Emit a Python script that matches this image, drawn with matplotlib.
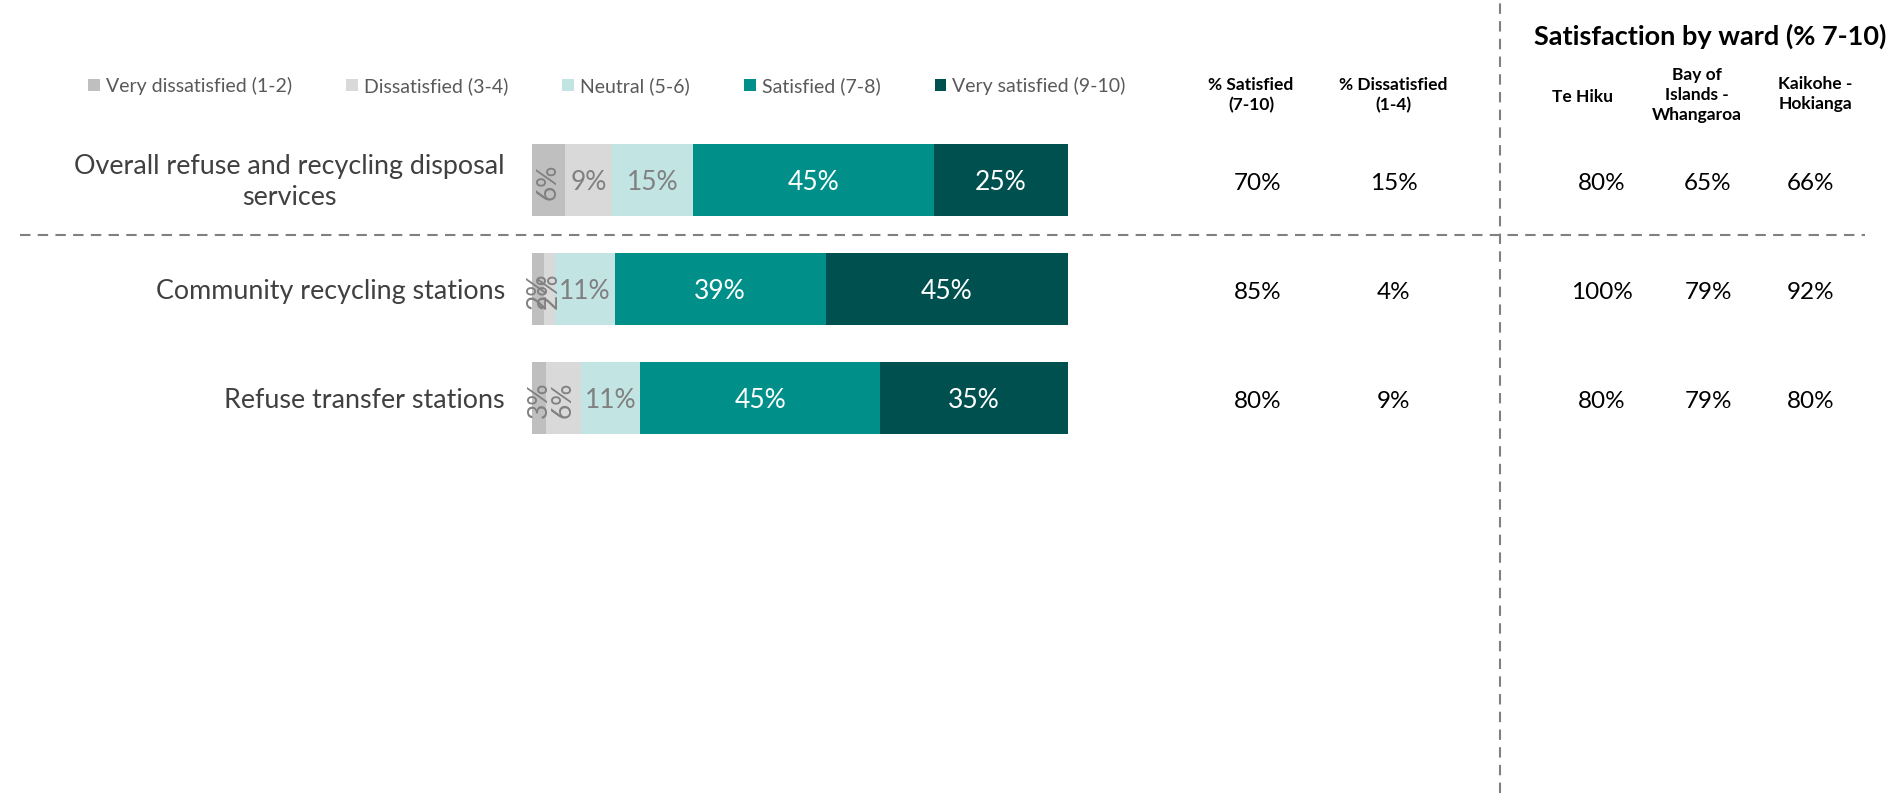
import matplotlib.pyplot as plt
import matplotlib.transforms as mtransforms
from matplotlib.lines import Line2D

# ===================================================================
# Data
# ===================================================================
categories = ["Overall refuse and recycling disposal\nservices",
              "Community recycling stations",
              "Refuse transfer stations"]
levels = ["Very dissatisfied (1-2)", "Dissatisfied (3-4)", "Neutral (5-6)",
          "Satisfied (7-8)", "Very satisfied (9-10)"]

very_dissatisfied = [6.1, 2.2, 2.7]
dissatisfied = [8.9, 2.0, 6.4]
neutral = [15.0, 11.2, 11.1]
satisfied = [45.0, 39.4, 44.8]
very_satisfied = [25.0, 45.2, 35.0]

pct_satisfied = [70, 85, 80]
pct_dissatisfied = [15, 4, 9]

ward_names = ["Te Hiku", "Bay of\nIslands -\nWhangaroa", "Kaikohe -\nHokianga"]
te_hiku = [80, 100, 80]
bay_of_islands = [65, 79, 79]
kaikohe = [66, 92, 80]

colors = ["#BFBFBF", "#D9D9D9", "#C2E5E4", "#009089", "#00504F"]
label_colors = ["#808080", "#808080", "#808080", "white", "white"]

# ===================================================================
# Figure
# ===================================================================
plt.rcParams["font.family"] = ["Lato", "DejaVu Sans"]
W, H = 1893, 793
fig = plt.figure(figsize=(W / 100, H / 100), dpi=100)

# row centres sit at 180, 290, 398 px from the top
row_px = 109.0
top_px = 180.0
ax = fig.add_axes([532 / W, 0, (1068 - 532) / W, 1])
ax.set_xlim(0, 100)
ax.set_ylim((H - top_px) / row_px, -top_px / row_px)
ax.axis("off")

ypos = list(range(len(categories)))
series = [very_dissatisfied, dissatisfied, neutral, satisfied, very_satisfied]

left = [0.0] * len(categories)
handles = []
for vals, name, col, lcol in zip(series, levels, colors, label_colors):
    bars = ax.barh(ypos, vals, left=left, height=0.66, color=col, label=name)
    handles.append(bars)
    for y, v, l in zip(ypos, vals, left):
        rot = 90 if v < 7 else 0
        ax.text(l + v / 2, y + 0.02, f"{round(v)}%", ha="center", va="center",
                rotation=rot, color=lcol, fontsize=19)
    left = [l + v for l, v in zip(left, vals)]

# blended transform: figure x, data y
tr = mtransforms.blended_transform_factory(fig.transFigure, ax.transData)

for y, cat in zip(ypos, categories):
    ax.text(505 / W, y + 0.02, cat, transform=tr, ha="right", va="center",
            multialignment="center", fontsize=19.4, color="#404040",
            linespacing=1.3)

# % satisfied / dissatisfied columns
for y, s, d in zip(ypos, pct_satisfied, pct_dissatisfied):
    ax.text(1258 / W, y + 0.03, f"{s}%", transform=tr, ha="center", va="center",
            fontsize=17.5, color="black")
    ax.text(1394 / W, y + 0.03, f"{d}%", transform=tr, ha="center", va="center",
            fontsize=17.5, color="black")

# ward columns
ward_x = [1602, 1708, 1811]
for wx, vals in zip(ward_x, [te_hiku, bay_of_islands, kaikohe]):
    for y, v in zip(ypos, vals):
        ax.text(wx / W, y + 0.03, f"{v}%", transform=tr, ha="center", va="center",
                fontsize=17.5, color="black")

# headers
fig.text(1251 / W, 1 - 95 / H, "% Satisfied\n(7-10)", ha="center", va="center",
         fontsize=12.5, fontweight="bold", linespacing=1.3)
fig.text(1393 / W, 1 - 95 / H, "% Dissatisfied\n(1-4)", ha="center", va="center",
         fontsize=12.5, fontweight="bold", linespacing=1.3)
ward_hx = [1583, 1697, 1815]
ward_hy = [97, 95, 94]
for hx, hy, name in zip(ward_hx, ward_hy, ward_names):
    fig.text(hx / W, 1 - hy / H, name, ha="center", va="center",
             fontsize=12.5, fontweight="bold", linespacing=1.3)

fig.text(1710 / W, 1 - 36 / H, "Satisfaction by ward (% 7-10)", ha="center",
         va="center", fontsize=19.5, fontweight="bold")

# dashed separators
ax.add_line(Line2D([20 / W, 1865 / W], [0.5, 0.5], transform=tr, color="#808080",
                   lw=1.5, ls=(0, (5, 3.5)), clip_on=False))
fig.add_artist(Line2D([1500 / W, 1500 / W], [0, 1], transform=fig.transFigure,
                      color="#808080", lw=1.5, ls=(0, (5, 3.5))))

# legend
fig.legend(handles=handles, labels=levels, loc="center left",
           bbox_to_anchor=(88 / W, 1 - 86 / H), ncol=5, frameon=False,
           fontsize=14, handlelength=0.6, handleheight=0.6,
           handletextpad=0.3, columnspacing=2.8, borderpad=0,
           borderaxespad=0, labelcolor="#595959")

fig.savefig("out.png", dpi=100)
